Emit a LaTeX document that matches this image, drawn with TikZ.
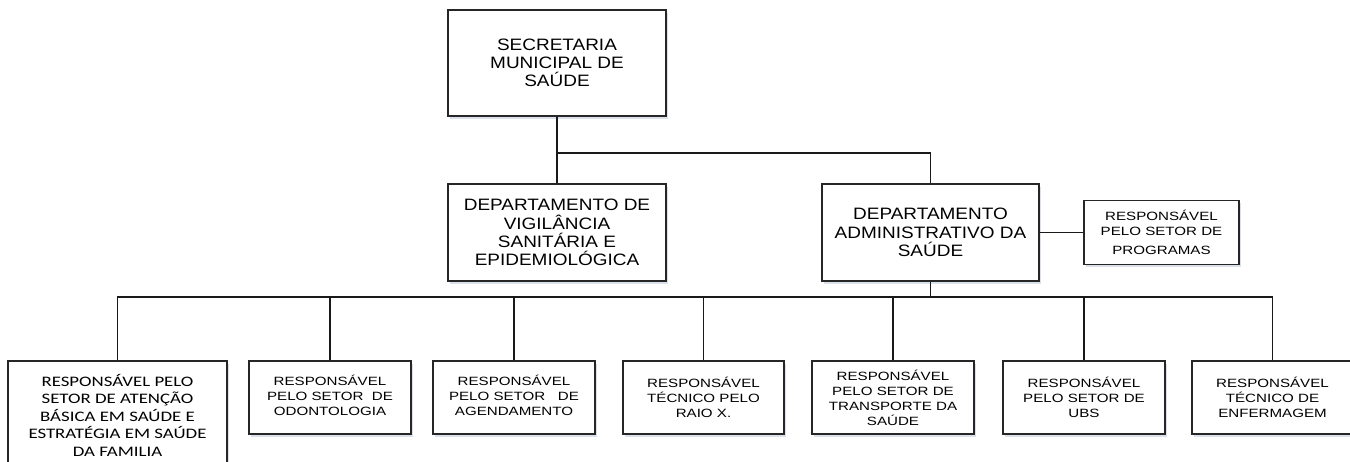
\documentclass[tikz,border=0pt]{standalone}
\usepackage{fontspec}
\setmainfont{Liberation Sans}[FakeStretch=1.15]
\newfontfamily\smallf{Liberation Sans}[FakeStretch=1.26]
\newfontfamily\calf{Carlito}[FakeStretch=1.3]
\usetikzlibrary{shadows}
\definecolor{shadowc}{RGB}{150,170,200}
\tikzset{
  box/.style={draw=black!85, line width=1.4pt, fill=white, inner sep=0pt, align=center,
    drop shadow={shadow xshift=1.5pt, shadow yshift=-2.5pt, fill=shadowc, opacity=0.35}},
  bigbox/.style={box, font=\fontsize{16.5}{18.3}\selectfont},
  smallbox/.style={box, font=\smallf\fontsize{12}{15}\selectfont},
  calbox/.style={box, font=\calf\fontsize{14.5}{17.5}\selectfont},
  conn/.style={draw=black!90, line width=1.7pt}
}
\begin{document}
\begin{tikzpicture}[x=1pt,y=-1pt]
\clip (0,0) rectangle (1350,461);
\fill[white] (0,0) rectangle (1350,461);
% top level
\node[bigbox, minimum width=218, minimum height=106] (sms) at (557,63) {SECRETARIA\\MUNICIPAL DE\\SAÚDE};
\node[bigbox, minimum width=218, minimum height=97] (vig) at (557,232.5) {DEPARTAMENTO DE\\VIGILÂNCIA\\SANITÁRIA E\\EPIDEMIOLÓGICA};
\node[bigbox, minimum width=217, minimum height=97] (adm) at (930.5,232.5) {DEPARTAMENTO\\ADMINISTRATIVO DA\\SAÚDE};
\node[smallbox, minimum width=155, minimum height=64] (prog) at (1161.5,232.5) {RESPONSÁVEL\\PELO SETOR DE\\[4pt]PROGRAMAS};
% bottom level
\node[calbox, minimum width=219, minimum height=108] (b1) at (117.5,415) {RESPONSÁVEL PELO\\SETOR DE ATENÇÃO\\BÁSICA EM SAÚDE E\\ESTRATÉGIA EM SAÚDE\\DA FAMILIA};
\node[smallbox, minimum width=162, minimum height=73] (b2) at (330,397.5) {\raisebox{-5pt}{\begin{tabular}{@{}c@{}}RESPONSÁVEL\\PELO SETOR\ \ DE\\ODONTOLOGIA\end{tabular}}};
\node[smallbox, minimum width=162, minimum height=73] (b3) at (514,397.5) {\raisebox{-5pt}{\begin{tabular}{@{}c@{}}RESPONSÁVEL\\PELO SETOR\ \ \ DE\\AGENDAMENTO\end{tabular}}};
\node[smallbox, minimum width=161, minimum height=73] (b4) at (703.5,397.5) {RESPONSÁVEL\\TÉCNICO PELO\\RAIO X.};
\node[smallbox, minimum width=162, minimum height=73] (b5) at (893,397.5) {RESPONSÁVEL\\PELO SETOR DE\\TRANSPORTE DA\\SAÚDE};
\node[smallbox, minimum width=162, minimum height=73] (b6) at (1084,397.5) {RESPONSÁVEL\\PELO SETOR DE\\UBS};
\node[smallbox, minimum width=161, minimum height=73] (b7) at (1272.5,397.5) {RESPONSÁVEL\\TÉCNICO DE\\ENFERMAGEM};
% connectors
\coordinate (bus) at (0,297);
\draw[conn] (sms.south) -- (vig.north);
\draw[conn] (sms.south) -- ++(0,36) -| (adm.north);
\draw[conn] (adm.east) -- (prog.west);
\draw[conn] (adm.south) -- (adm.south |- bus);
\draw[conn] (b1.north) -- (b1.north |- bus) -| (b7.north);
\foreach \b in {b2,b3,b4,b5,b6} {\draw[conn] (\b.north) -- (\b.north |- bus);}
\end{tikzpicture}
\end{document}
